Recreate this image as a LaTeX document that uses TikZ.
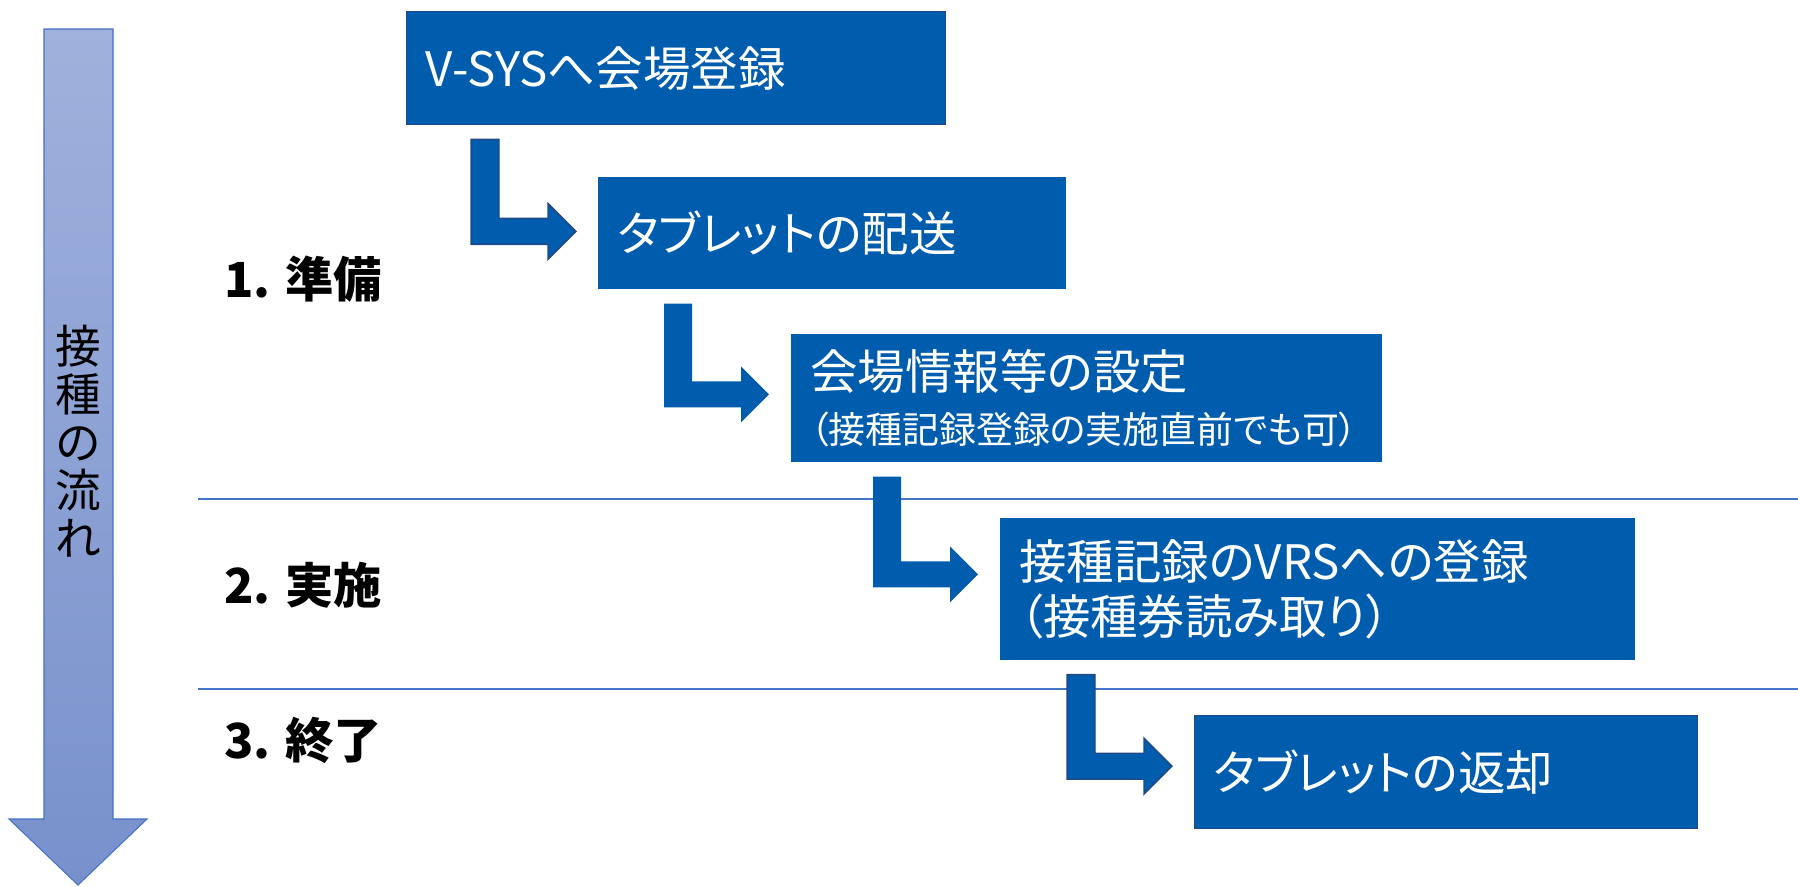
\documentclass[tikz,border=0pt]{standalone}
\usepackage{fontspec}
\setmainfont{Noto Sans CJK JP}[RawFeature=+palt]
\usetikzlibrary{calc}

\definecolor{boxblue}{RGB}{0,93,174}
\definecolor{boxline}{RGB}{35,72,130}
\definecolor{sepblue}{RGB}{68,114,196}
\definecolor{flowtop}{RGB}{160,177,220}
\definecolor{flowbottom}{RGB}{120,145,204}

\begin{document}
\begin{tikzpicture}[x=0.02cm, y=-0.02cm,
    stepbox/.style={fill=boxblue, text=white, anchor=north west, align=left,
      inner xsep=0.38cm, font=\fontsize{27}{31}\selectfont},
    framed/.style={draw=boxline, line width=0.8pt},
    bent/.style={fill=boxblue, line width=0.8pt},
    phase/.style={anchor=west, inner sep=0pt, font=\fontsize{27.5}{32}\selectfont\bfseries},
    sep/.style={draw=sepblue, line width=0.9pt}]
  \useasboundingbox (0,0) rectangle (1798,886);

  \draw[sepblue, line width=0.6pt, top color=flowtop, bottom color=flowbottom]
    (44,29) -- (113,29) -- (113,819) -- (147,819) -- (78,885) -- (9,819) -- (44,819) -- cycle;
  \node[align=center, font=\fontsize{26}{27.3}\selectfont] (flow) at (78,441) {接\\種\\の\\流\\れ};

  \foreach \y in {499, 689} \draw[sep] (198,\y) -- (1798,\y);
  \foreach \y/\t [count=\i] in {279/準備, 585/実施, 740/終了}
    \node[phase] (p\i) at (224,\y) {\i.\hspace{0.3em}\t};

  \node[stepbox, framed, text width=10.02cm, minimum height=2.26cm] (vsys) at (406,11) {V-SYSへ会場登録};
  \node[stepbox, text width=8.6cm, minimum height=2.24cm] (haisou) at (598,177) {タブレットの配送};
  \node[stepbox, text width=11.06cm, minimum height=2.56cm] (settei) at (791,334)
    {会場情報等の設定\\{\fontsize{21}{25}\selectfont （接種記録登録の実施直前でも可）}};
  \node[stepbox, text width=11.94cm, minimum height=2.84cm] (touroku) at (1000,518)
    {接種記録のVRSへの登録\\（接種券読み取り）};
  \node[stepbox, framed, text width=9.3cm, minimum height=2.26cm] (henkyaku) at (1194,715) {タブレットの返却};

  \foreach \a/\b/\d/\col in {vsys/haisou/-2/boxline, haisou/settei/-4/none,
      settei/touroku/-15/none, touroku/henkyaku/-6/boxline} {
    \coordinate (tip) at ($(\b.west)+(-22,\d)$);
    \coordinate (top) at ($(\a.south)+(0,14)$);
    \coordinate (bl) at ($(tip)+(-105,0)$);
    \coordinate (br) at ($(tip)+(-77,0)$);
    \filldraw[bent, draw=\col] (tip) -- ($(tip)+(-28,-28)$) -- ($(tip)+(-28,-13)$)
      -- ($(br)+(0,-13)$) -- (br |- top) -- (bl |- top) -- ($(bl)+(0,13)$)
      -- ($(tip)+(-28,13)$) -- ($(tip)+(-28,28)$) -- cycle;
  }
\end{tikzpicture}
\end{document}
